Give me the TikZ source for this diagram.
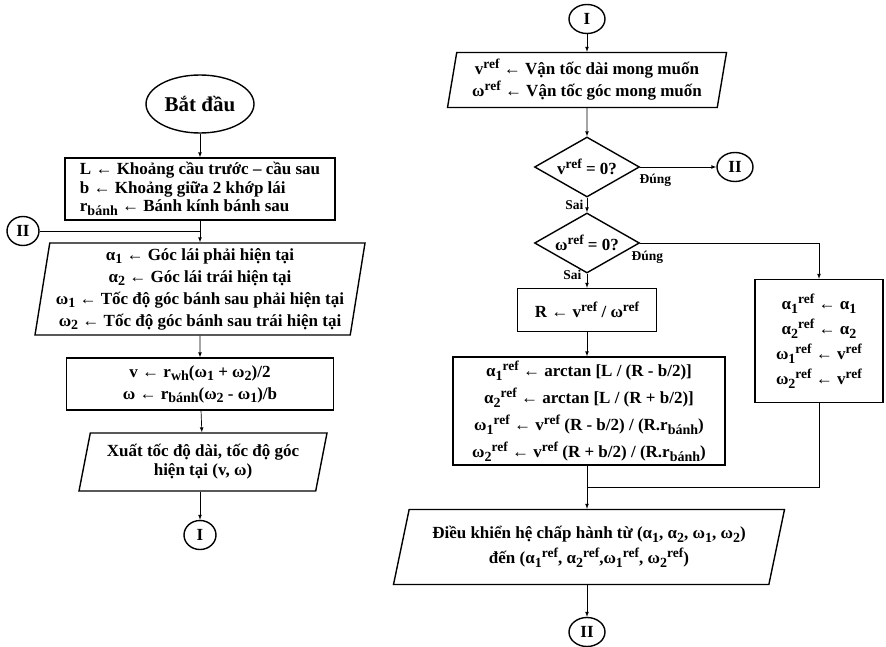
\documentclass[tikz,border=0pt]{standalone}
\usepackage{fontspec}
\setmainfont{Liberation Serif}
\usetikzlibrary{arrows,shapes.geometric}
\newcommand{\rf}{\raisebox{0.8ex}{\fontsize{13.5}{14}\selectfont ref}}
\newcommand{\lo}[1]{\raisebox{-0.45ex}{\fontsize{14}{14}\selectfont #1}}

\begin{document}
\begin{tikzpicture}[x=1pt,y=-1pt,>=latex,
    every node/.style={font=\fontsize{17}{22}\selectfont\bfseries},
    flow/.style={draw,line width=0.7pt,->},
    box/.style={draw,line width=1.4pt,rectangle,inner sep=1pt,align=center},
    io/.style={draw,line width=1.4pt,trapezium,trapezium left angle=75,trapezium right angle=105,
               trapezium stretches body,inner sep=1pt,align=center},
    cond/.style={draw,line width=1.4pt,diamond,aspect=1.75,inner sep=0pt,minimum width=105pt,minimum height=60pt},
    conn/.style={draw,line width=1.4pt,ellipse,inner sep=0pt,minimum width=32pt,minimum height=29pt},
    lbl/.style={font=\fontsize{13.5}{15}\selectfont\bfseries}]
    \useasboundingbox (0,0) rectangle (886,647);
    % left column
    \node[conn,minimum width=108pt,minimum height=58pt,font=\fontsize{21}{24}\selectfont\bfseries]
         (start)  at (200,104) {Bắt đầu};
    \node[box,minimum width=270pt,minimum height=62pt,align=left,font=\fontsize{17}{18.5}\selectfont\bfseries]
         (consts) at (200,189) {L ← Khoảng cầu trước – cầu sau\\ b ← Khoảng giữa 2 khớp lái\\ r\lo{bánh} ← Bánh kính bánh sau};
    \node[conn]   (lII)    at (23,231)  {II};
    \node[io,trapezium left angle=80,trapezium right angle=100,minimum width=330pt,minimum height=92pt]
         (meas)   at (200,289) {α\lo{1} ← Góc lái phải hiện tại\\ α\lo{2} ← Góc lái trái hiện tại\\
                                ω\lo{1} ← Tốc độ góc bánh sau phải hiện tại\\ ω\lo{2} ← Tốc độ góc bánh sau trái hiện tại};
    \node[box,minimum width=267pt,minimum height=52pt]
         (speed)  at (200,384) {v ← r\lo{wh}(ω\lo{1} + ω\lo{2})/2\\ ω ← r\lo{bánh}(ω\lo{2} - ω\lo{1})/b};
    \node[io,trapezium left angle=73,trapezium right angle=107,minimum width=248pt,minimum height=58pt,
          font=\fontsize{17}{19}\selectfont\bfseries]
         (out)    at (203,462) {Xuất tốc độ dài, tốc độ góc\\ hiện tại (v, ω)};
    \node[conn]   (lI)     at (200,535) {I};
    % right column
    \node[conn,minimum width=36pt] (rI) at (587,19) {I};
    \node[io,trapezium left angle=78,trapezium right angle=102,minimum width=279pt,minimum height=55pt]
         (want)   at (587,80)  {v\rf{} ← Vận tốc dài mong muốn\\ ω\rf{} ← Vận tốc góc mong muốn};
    \node[cond]   (vzero)  at (587,167) {v\rf{} = 0?};
    \node[conn,minimum width=36pt] (rII) at (735,167) {II};
    \node[cond]   (wzero)  at (587,243) {ω\rf{} = 0?};
    \node[box,minimum width=139pt,minimum height=43pt]
         (radius) at (587,310) {R ← v\rf{} / ω\rf};
    \node[box,minimum width=272pt,minimum height=108pt,font=\fontsize{17}{27}\selectfont\bfseries]
         (ref)    at (589,411) {α\lo{1}\rf{} ← arctan [L / (R - b/2)]\\ α\lo{2}\rf{} ← arctan [L / (R + b/2)]\\
                                ω\lo{1}\rf{} ← v\rf{} (R - b/2) / (R.r\lo{bánh})\\ ω\lo{2}\rf{} ← v\rf{} (R + b/2) / (R.r\lo{bánh})};
    \node[box,minimum width=128pt,minimum height=123pt,font=\fontsize{17}{25}\selectfont\bfseries]
         (keep)   at (819,341) {α\lo{1}\rf{} ← α\lo{1}\\ α\lo{2}\rf{} ← α\lo{2}\\ ω\lo{1}\rf{} ← v\rf\\ ω\lo{2}\rf{} ← v\rf};
    \node[io,trapezium left angle=70,trapezium right angle=110,minimum width=391pt,minimum height=75pt,
          font=\fontsize{17}{25}\selectfont\bfseries]
         (act)    at (589,547) {Điều khiển hệ chấp hành từ (α\lo{1}, α\lo{2}, ω\lo{1}, ω\lo{2})\\
                                đến (α\lo{1}\rf, α\lo{2}\rf,ω\lo{1}\rf, ω\lo{2}\rf)};
    \node[conn,minimum width=36pt] (rII2) at (587,632) {II};
    \coordinate (jleft)  at (lII -| meas.north);
    \coordinate (jright) at (587,487);
    % connectors
    \draw[flow] (start) -- (consts);
    \draw[flow] (consts) -- (meas);
    \draw[line width=0.7pt] (lII) -- (jleft);
    \draw[flow] (meas) -- (speed);
    \draw[flow] (speed) -- (out);
    \draw[flow] (out.south -| lI) -- (lI);
    \draw[flow] (rI) -- (want);
    \draw[flow] (want) -- (vzero);
    \draw[flow] (vzero) -- (rII) node[lbl,pos=0.2,below=3pt] (yes1) {Đúng};
    \draw[flow] (vzero) -- (wzero) node[lbl,pos=0.5,left] (no1) {Sai};
    \draw[flow] (wzero.east) -| (keep.north) node[lbl,pos=0.02,below=4pt] (yes2) {Đúng};
    \draw[flow] (wzero) -- (radius) node[lbl,pos=0.05,left=2pt] (no2) {Sai};
    \draw[flow] (radius) -- (radius |- ref.north);
    \draw[flow] (radius |- ref.south) -- (radius |- act.north);
    \draw[line width=0.7pt] (keep.south) |- (jright);
    \draw[flow] (rII2 |- act.south) -- (rII2);
\end{tikzpicture}
\end{document}
